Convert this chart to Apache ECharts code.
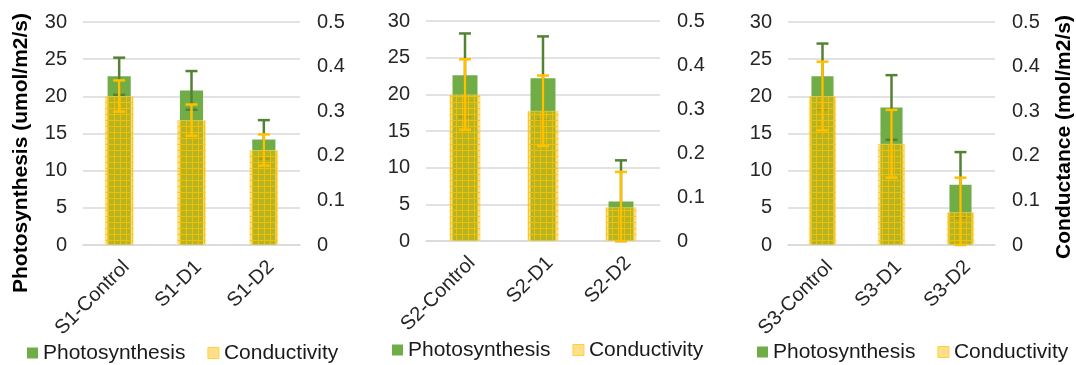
<!DOCTYPE html>
<html>
<head>
<meta charset="utf-8">
<script src="https://cdn.jsdelivr.net/npm/echarts@6/dist/echarts.min.js"></script>
<style>
  html, body { margin: 0; padding: 0; background: #fff; }
  #chart { width: 1076px; height: 365px; }
</style>
</head>
<body>
<div id="chart"></div>
<script>
// Three sites, each with a control and two drought treatments
const categories1 = ['S1-Control', 'S1-D1', 'S1-D2'];
const categories2 = ['S2-Control', 'S2-D1', 'S2-D2'];
const categories3 = ['S3-Control', 'S3-D1', 'S3-D2'];

// Photosynthesis (umol/m2/s) and its error
const photo1 = [22.7, 20.8, 14.2];
const photoErr1 = [2.5, 2.6, 2.6];
const photo2 = [22.6, 22.2, 5.4];
const photoErr2 = [5.7, 5.7, 5.6];
const photo3 = [22.7, 18.5, 8.1];
const photoErr3 = [4.4, 4.35, 4.4];

// Stomatal conductance (mol/m2/s) and its error
const cond1 = [0.334, 0.28, 0.213];
const condErr1 = [0.035, 0.035, 0.035];
const cond2 = [0.333, 0.296, 0.077];
const condErr2 = [0.08, 0.08, 0.08];
const cond3 = [0.334, 0.227, 0.074];
const condErr3 = [0.077, 0.076, 0.077];

// Axis ranges / ticks
const photoAxis = { min: 0, max: 30, interval: 5 };
const condAxis = { min: 0, max: 0.5, interval: 0.1 };

const FONT = '"Liberation Sans", Arial, sans-serif';
const GREEN = '#70AD47';
const GREEN_ERR = '#548235';
const YELLOW_ERR = '#FFC000';

// Gridded translucent yellow fill for the conductivity bars
function makePattern() {
  const n = 6;
  const c = document.createElement('canvas');
  c.width = n; c.height = n;
  const ctx = c.getContext('2d');
  ctx.fillStyle = 'rgba(250,190,0,0.5)';
  ctx.fillRect(0, 0, n, n);
  ctx.fillStyle = 'rgba(255,192,0,0.85)';
  ctx.fillRect(0, 0, n, 1);
  ctx.fillRect(0, 1, 1, n - 1);
  return c;
}
const yellowFill = { image: makePattern(), repeat: 'repeat' };

const panels = [
  { cats: categories1, photo: photo1, pErr: photoErr1, cond: cond1, cErr: condErr1,
    grid: { left: 83, right: 776, top: 22, bottom: 120 }, legend: { left: 27, top: 341 } },
  { cats: categories2, photo: photo2, pErr: photoErr2, cond: cond2, cErr: condErr2,
    grid: { left: 426, right: 416, top: 21, bottom: 124 }, legend: { left: 392, top: 338 } },
  { cats: categories3, photo: photo3, pErr: photoErr3, cond: cond3, cErr: condErr3,
    grid: { left: 788, right: 81, top: 22, bottom: 120 }, legend: { left: 757, top: 340 } }
];

function errorBar(color) {
  return function (params, api) {
    const i = api.value(0), v = api.value(1), e = api.value(2);
    const top = api.coord([i, v + e]);
    const bot = api.coord([i, Math.max(v - e, 0)]);
    const half = 6;
    const st = { stroke: color, lineWidth: 2.5, lineCap: 'butt' };
    return {
      type: 'group',
      children: [
        { type: 'line', shape: { x1: top[0], y1: top[1], x2: bot[0], y2: bot[1] }, style: st },
        { type: 'line', shape: { x1: top[0] - half, y1: top[1], x2: top[0] + half, y2: top[1] }, style: st },
        { type: 'line', shape: { x1: bot[0] - half, y1: bot[1], x2: bot[0] + half, y2: bot[1] }, style: st }
      ]
    };
  };
}

const grid = [], xAxis = [], yAxis = [], series = [], legend = [];

panels.forEach((p, k) => {
  grid.push(p.grid);
  const xa = 2 * k, xb = 2 * k + 1, yl = 2 * k, yr = 2 * k + 1;
  xAxis.push({
    type: 'category', gridIndex: k, data: p.cats,
    axisLine: { lineStyle: { color: '#d9d9d9', width: 1.5 } },
    axisTick: { show: false },
    axisLabel: { rotate: 45, fontSize: 20, fontFamily: FONT, color: '#262626', margin: 12,
                 interval: 0, verticalAlign: 'top' }
  });
  xAxis.push({
    type: 'category', gridIndex: k, data: p.cats, show: false
  });
  yAxis.push({
    type: 'value', gridIndex: k, min: photoAxis.min, max: photoAxis.max, interval: photoAxis.interval,
    axisLine: { show: false }, axisTick: { show: false },
    splitLine: { lineStyle: { color: '#d9d9d9', width: 1.5 } },
    axisLabel: { fontSize: 20, fontFamily: FONT, color: '#262626', margin: 16 }
  });
  yAxis.push({
    type: 'value', gridIndex: k, position: 'right', min: condAxis.min, max: condAxis.max, interval: condAxis.interval,
    axisLine: { show: false }, axisTick: { show: false }, splitLine: { show: false },
    axisLabel: { fontSize: 20, fontFamily: FONT, color: '#262626', margin: 17 }
  });

  series.push({
    name: 'Photosynthesis', type: 'bar', xAxisIndex: xa, yAxisIndex: yl,
    data: p.photo, barWidth: '32%', z: 2,
    itemStyle: { color: GREEN }
  });
  series.push({
    name: 'Photosynthesis', type: 'custom', xAxisIndex: xa, yAxisIndex: yl, z: 3,
    renderItem: errorBar(GREEN_ERR),
    encode: { x: 0, y: 1 },
    data: p.photo.map((v, i) => [i, v, p.pErr[i]])
  });
  series.push({
    name: 'Conductivity', type: 'bar', xAxisIndex: xb, yAxisIndex: yr,
    data: p.cond, barWidth: '40%', z: 4,
    itemStyle: { color: yellowFill, borderColor: 'rgba(255,220,110,0.5)', borderWidth: 1 }
  });
  series.push({
    name: 'Conductivity', type: 'custom', xAxisIndex: xb, yAxisIndex: yr, z: 5,
    renderItem: errorBar(YELLOW_ERR),
    encode: { x: 0, y: 1 },
    data: p.cond.map((v, i) => [i, v, p.cErr[i]])
  });

  legend.push({
    left: p.legend.left, top: p.legend.top, width: 330, padding: 0,
    orient: 'horizontal', icon: 'rect', itemWidth: 11, itemHeight: 11, itemGap: 22,
    textStyle: { fontSize: 21, fontFamily: FONT, color: '#1a1a1a', lineHeight: 24 },
    data: [
      { name: 'Photosynthesis', itemStyle: { color: GREEN } },
      { name: 'Conductivity', itemStyle: { color: '#ffe08a', borderColor: '#ffcf40', borderWidth: 1 } }
    ]
  });
});

const chart = echarts.init(document.getElementById('chart'), null, { renderer: 'canvas' });
chart.setOption({
  animation: false,
  backgroundColor: '#fff',
  grid, xAxis, yAxis, series, legend,
  graphic: [
    { type: 'text', x: 21, y: 153, rotation: Math.PI / 2,
      style: { text: 'Photosynthesis (umol/m2/s)', fontSize: 21, fontWeight: 'bold', fontFamily: FONT,
               fill: '#000', align: 'center', verticalAlign: 'middle' } },
    { type: 'text', x: 1064, y: 137, rotation: Math.PI / 2,
      style: { text: 'Conductance (mol/m2/s)', fontSize: 21, fontWeight: 'bold', fontFamily: FONT,
               fill: '#000', align: 'center', verticalAlign: 'middle' } }
  ]
});
</script>
</body>
</html>
